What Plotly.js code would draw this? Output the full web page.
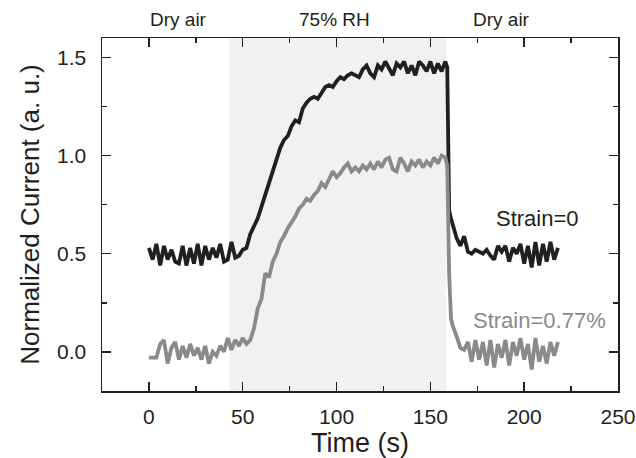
<!DOCTYPE html>
<html>
<head>
<meta charset="utf-8">
<script src="https://cdn.plot.ly/plotly-3.0.1.min.js"></script>
<style>html,body{margin:0;padding:0;background:#fff;}#chart{width:636px;height:458px;}</style>
</head>
<body>
<div id="chart"></div>
<script>
// Time (s)
var time = [0,2,4,6,8,10,12,14,16,18,20,22,24,26,28,30,32,34,36,38,40,42,44,46,48,50,52,54,56,58,60,62,64,66,68,70,72,74,76,78,80,82,84,86,88,90,92,94,96,98,100,102,104,106,108,110,112,114,116,118,120,122,124,126,128,130,132,134,136,138,140,142,144,146,148,150,152,154,156,158,159,160,161,162,164,166,168,170,172,174,176,178,180,182,184,186,188,190,192,194,196,198,200,202,204,206,208,210,212,214,216,218];

// Normalized current, Strain=0
var strain0 = [0.53,0.47,0.55,0.44,0.54,0.47,0.52,0.46,0.45,0.54,0.44,0.53,0.45,0.55,0.44,0.54,0.47,0.53,0.48,0.55,0.46,0.47,0.56,0.48,0.49,0.52,0.53,0.60,0.64,0.68,0.74,0.80,0.86,0.92,0.98,1.04,1.08,1.10,1.15,1.18,1.17,1.24,1.27,1.29,1.30,1.29,1.32,1.35,1.36,1.35,1.38,1.40,1.39,1.41,1.42,1.41,1.40,1.44,1.46,1.42,1.40,1.46,1.44,1.48,1.44,1.41,1.47,1.45,1.48,1.42,1.46,1.41,1.48,1.46,1.43,1.48,1.42,1.47,1.43,1.48,1.45,0.72,0.68,0.64,0.58,0.54,0.59,0.51,0.50,0.52,0.51,0.50,0.52,0.49,0.47,0.54,0.51,0.54,0.46,0.53,0.50,0.55,0.45,0.54,0.43,0.56,0.44,0.55,0.46,0.56,0.47,0.53];

// Normalized current, Strain=0.77%
var strain077 = [-0.03,-0.03,-0.03,0.04,0.06,-0.06,0.02,0.05,-0.04,0.03,-0.03,0.04,-0.02,0.02,-0.04,0.03,-0.06,0.00,-0.02,0.03,0.00,0.07,0.01,0.06,0.03,0.07,0.04,0.06,0.12,0.22,0.27,0.40,0.38,0.46,0.50,0.56,0.59,0.63,0.66,0.69,0.73,0.75,0.78,0.77,0.80,0.82,0.86,0.84,0.88,0.92,0.89,0.91,0.94,0.96,0.92,0.94,0.92,0.95,0.93,0.96,0.93,0.97,0.94,0.98,0.99,0.93,0.92,0.99,0.96,0.92,0.97,0.95,0.98,0.94,0.97,0.95,0.99,0.96,1.00,0.99,0.95,0.40,0.17,0.13,0.08,0.02,0.01,0.05,-0.05,0.06,-0.04,0.05,-0.07,0.06,-0.08,0.04,-0.03,0.06,-0.07,0.05,-0.02,0.07,-0.04,0.04,-0.09,0.07,-0.05,0.03,-0.06,0.05,-0.02,0.05];

var seriesNames = ["Strain=0", "Strain=0.77%"];
var phaseLabels = ["Dry air", "75% RH", "Dry air"];
var phaseCenters = [16, 99, 188];
var humidWindow = [43, 158.5];

var FONT = "Liberation Sans, Arial, sans-serif";
var AX = "#231f20";

var traces = [
  {x: time, y: strain0, type: "scatter", mode: "lines", name: seriesNames[0],
   line: {color: "#231f20", width: 3.8}},
  {x: time, y: strain077, type: "scatter", mode: "lines", name: seriesNames[1],
   line: {color: "#8a8a8a", width: 3.8}}
];

var annotations = phaseLabels.map(function (t, i) {
  return {x: phaseCenters[i], xref: "x", y: 1.052, yref: "paper", text: t,
          showarrow: false, xanchor: "center", yanchor: "middle",
          font: {family: FONT, size: 19, color: "#231f20"}};
});
annotations.push({x: 207, xref: "x", y: 0.68, yref: "y", text: seriesNames[0], showarrow: false,
  xanchor: "center", yanchor: "middle", font: {family: FONT, size: 22, color: "#231f20"}});
annotations.push({x: 208, xref: "x", y: 0.16, yref: "y", text: seriesNames[1], showarrow: false,
  xanchor: "center", yanchor: "middle", font: {family: FONT, size: 22, color: "#8a8a8a"}});

var axisCommon = {
  showgrid: false, zeroline: false, showline: true, linecolor: AX, linewidth: 1.5,
  mirror: "allticks", ticks: "inside", ticklen: 9, tickwidth: 1.5, tickcolor: AX,
  tickfont: {family: FONT, size: 21, color: "#231f20"}
};

var layout = {
  width: 636, height: 458,
  margin: {l: 102, r: 18, t: 38, b: 67, pad: 0},
  paper_bgcolor: "#fff", plot_bgcolor: "#fff",
  showlegend: false,
  font: {family: FONT, color: "#231f20"},
  xaxis: Object.assign({}, axisCommon, {
    range: [-25, 250], tickmode: "linear", tick0: 0, dtick: 50, ticklabelstandoff: 6,
    minor: {dtick: 25, tick0: 0, ticks: "inside", ticklen: 5, tickwidth: 1.5, tickcolor: AX, showgrid: false},
    title: {text: "Time (s)", font: {family: FONT, size: 27, color: "#231f20"}, standoff: 4}
  }),
  yaxis: Object.assign({}, axisCommon, {
    range: [-0.2, 1.6], tickmode: "linear", tick0: 0, dtick: 0.5, tickformat: ".1f", ticklabelstandoff: 10,
    minor: {dtick: 0.25, tick0: 0, ticks: "inside", ticklen: 5, tickwidth: 1.5, tickcolor: AX, showgrid: false},
    title: {text: "Normalized Current (a. u.)", font: {family: FONT, size: 26, color: "#231f20"}, standoff: 10}
  }),
  shapes: [{type: "rect", xref: "x", yref: "paper", x0: humidWindow[0], x1: humidWindow[1],
            y0: 0, y1: 1, fillcolor: "#f1f1f1", line: {width: 0}, layer: "below"}],
  annotations: annotations
};

Plotly.newPlot("chart", traces, layout, {displayModeBar: false, staticPlot: true});
</script>
</body>
</html>
